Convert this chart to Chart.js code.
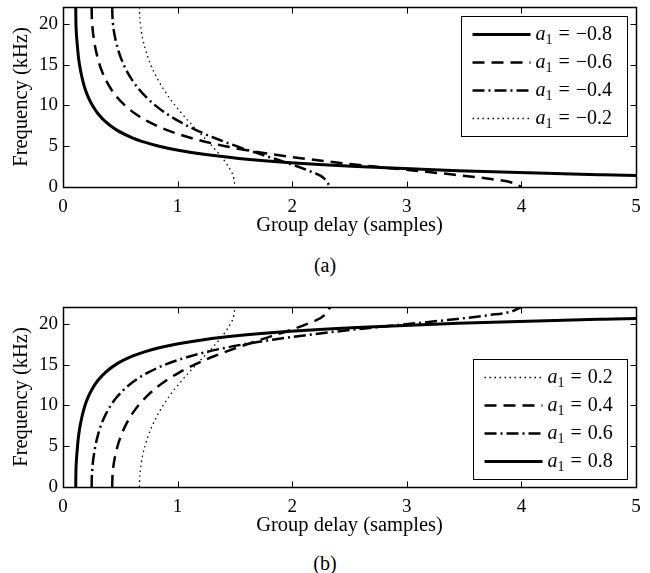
<!DOCTYPE html>
<html>
<head>
<meta charset="utf-8">
<script src="https://cdn.jsdelivr.net/npm/chart.js@4.4.1/dist/chart.umd.min.js"></script>
<style>
  body { margin: 0; background: #fff; }
  #fig { position: relative; width: 650px; height: 573px; font-family: "Liberation Serif", serif; }
  #fig canvas { position: absolute; left: 0; }
  .cap { position: absolute; left: 0; width: 650px; text-align: center; font-size: 20px; line-height: 22px; color: #000; }
</style>
</head>
<body>
<div id="fig">
  <canvas id="delayNeg" width="650" height="250" style="top:0"></canvas>
  <div class="cap" style="top:254px">(a)</div>
  <canvas id="delayPos" width="650" height="250" style="top:300px"></canvas>
  <div class="cap" style="top:552px">(b)</div>
</div>
<script>
const xTicks = [0, 1, 2, 3, 4, 5];
const yTicks = [0, 5, 10, 15, 20];
const fMax = 22.05;

// (a) negative coefficients: group delay (samples) against frequency (kHz)
const delayNeg08 = [0.111, 0.112, 0.113, 0.116, 0.121, 0.127, 0.134, 0.144, 0.157, 0.173, 0.193, 0.220, 0.256, 0.304, 0.371, 0.466, 0.610, 0.711, 0.839, 1.006, 1.229, 1.533, 1.957, 2.564, 3.444, 4.712, 5.0];
const freqNeg08 = [22.05, 21, 20, 19, 18, 17, 16, 15, 14, 13, 12, 11, 10, 9, 8, 7, 6, 5.5, 5, 4.5, 4, 3.5, 3, 2.5, 2, 1.5, 1.41];

const delayNeg06 = [0.250, 0.251, 0.255, 0.261, 0.271, 0.283, 0.299, 0.319, 0.345, 0.378, 0.419, 0.472, 0.540, 0.628, 0.745, 0.903, 1.118, 1.416, 1.830, 2.388, 2.720, 3.071, 3.417, 3.717, 3.925, 4.000];
const freqNeg06 = [22.05, 21, 20, 19, 18, 17, 16, 15, 14, 13, 12, 11, 10, 9, 8, 7, 6, 5, 4, 3, 2.5, 2, 1.5, 1, 0.5, 0];

const delayNeg04 = [0.429, 0.431, 0.436, 0.445, 0.459, 0.477, 0.500, 0.529, 0.564, 0.608, 0.661, 0.726, 0.805, 0.901, 1.017, 1.157, 1.323, 1.515, 1.727, 1.945, 2.141, 2.282, 2.333];
const freqNeg04 = [22.05, 21, 20, 19, 18, 17, 16, 15, 14, 13, 12, 11, 10, 9, 8, 7, 6, 5, 4, 3, 2, 1, 0];

const delayNeg02 = [0.667, 0.669, 0.675, 0.684, 0.698, 0.716, 0.738, 0.765, 0.797, 0.834, 0.876, 0.924, 0.978, 1.037, 1.100, 1.166, 1.235, 1.302, 1.365, 1.420, 1.463, 1.491, 1.500];
const freqNeg02 = [22.05, 21, 20, 19, 18, 17, 16, 15, 14, 13, 12, 11, 10, 9, 8, 7, 6, 5, 4, 3, 2, 1, 0];

// (b) positive coefficients
const delayPos02 = [0.667, 0.669, 0.675, 0.684, 0.698, 0.716, 0.738, 0.765, 0.797, 0.834, 0.876, 0.924, 0.978, 1.037, 1.100, 1.166, 1.235, 1.302, 1.365, 1.420, 1.463, 1.491, 1.500];
const freqPos02 = [0, 1.05, 2.05, 3.05, 4.05, 5.05, 6.05, 7.05, 8.05, 9.05, 10.05, 11.05, 12.05, 13.05, 14.05, 15.05, 16.05, 17.05, 18.05, 19.05, 20.05, 21.05, 22.05];

const delayPos04 = [0.429, 0.431, 0.436, 0.445, 0.459, 0.477, 0.500, 0.529, 0.564, 0.608, 0.661, 0.726, 0.805, 0.901, 1.017, 1.157, 1.323, 1.515, 1.727, 1.945, 2.141, 2.282, 2.333];
const freqPos04 = [0, 1.05, 2.05, 3.05, 4.05, 5.05, 6.05, 7.05, 8.05, 9.05, 10.05, 11.05, 12.05, 13.05, 14.05, 15.05, 16.05, 17.05, 18.05, 19.05, 20.05, 21.05, 22.05];

const delayPos06 = [0.250, 0.251, 0.255, 0.261, 0.271, 0.283, 0.299, 0.319, 0.345, 0.378, 0.419, 0.472, 0.540, 0.628, 0.745, 0.903, 1.118, 1.416, 1.830, 2.388, 2.720, 3.071, 3.417, 3.717, 3.925, 4.000];
const freqPos06 = [0, 1.05, 2.05, 3.05, 4.05, 5.05, 6.05, 7.05, 8.05, 9.05, 10.05, 11.05, 12.05, 13.05, 14.05, 15.05, 16.05, 17.05, 18.05, 19.05, 19.55, 20.05, 20.55, 21.05, 21.55, 22.05];

const delayPos08 = [0.111, 0.112, 0.113, 0.116, 0.121, 0.127, 0.134, 0.144, 0.157, 0.173, 0.193, 0.220, 0.256, 0.304, 0.371, 0.466, 0.610, 0.711, 0.839, 1.006, 1.229, 1.533, 1.957, 2.564, 3.444, 4.712, 5.0];
const freqPos08 = [0, 1.05, 2.05, 3.05, 4.05, 5.05, 6.05, 7.05, 8.05, 9.05, 10.05, 11.05, 12.05, 13.05, 14.05, 15.05, 16.05, 16.55, 17.05, 17.55, 18.05, 18.55, 19.05, 19.55, 20.05, 20.55, 20.64];

const FONT = '"Liberation Serif", "Times New Roman", serif';
const tickFont = { family: FONT, size: 19 };
const titleFont = { family: FONT, size: 20.5 };

const lineStyles = {
	solid: { borderWidth: 3, borderDash: [] },
	dashed: { borderWidth: 2.5, borderDash: [12, 7] },
	dashDot: { borderWidth: 2.5, borderDash: [12, 4, 2, 4] },
	dotted: { borderWidth: 1.3, borderDash: [1.5, 3.5] },
};

function series(coef, delays, freqs, style) {
	return {
		label: coef,
		data: delays.map((d, i) => ({ x: d, y: freqs[i] })),
		showLine: true,
		borderColor: "#000",
		backgroundColor: "#000",
		borderWidth: lineStyles[style].borderWidth,
		borderDash: lineStyles[style].borderDash,
		pointRadius: 0,
		cubicInterpolationMode: "monotone",
	};
}

// box + inward ticks on all four sides
const framePlugin = {
	id: "frame",
	afterDatasetsDraw(chart) {
		const { ctx, chartArea: a, scales } = chart;
		const l = Math.round(a.left) + 0.5, r = Math.round(a.right) + 0.5;
		const t = Math.round(a.top) + 0.5, b = Math.round(a.bottom) + 0.5;
		ctx.save();
		ctx.strokeStyle = "#000";
		ctx.lineWidth = 1;
		ctx.beginPath();
		scales.x.ticks.forEach((tk) => {
			const px = Math.round(scales.x.getPixelForValue(tk.value)) + 0.5;
			ctx.moveTo(px, b); ctx.lineTo(px, b - 6);
			ctx.moveTo(px, t); ctx.lineTo(px, t + 6);
		});
		scales.y.ticks.forEach((tk) => {
			const py = Math.round(scales.y.getPixelForValue(tk.value)) + 0.5;
			ctx.moveTo(l, py); ctx.lineTo(l + 6, py);
			ctx.moveTo(r, py); ctx.lineTo(r - 6, py);
		});
		ctx.stroke();
		ctx.lineWidth = 1.5;
		ctx.strokeRect(l, t, r - l, b - t);
		ctx.restore();
	},
};

// legend drawn inside the axes, framed
const boxLegend = {
	id: "boxLegend",
	afterDraw(chart, args, opts) {
		const { ctx, chartArea: a } = chart;
		const sets = chart.data.datasets;
		const big = "20px " + FONT, small = "14px " + FONT, ital = "italic 20px " + FONT;
		ctx.save();
		ctx.font = ital; const wa = ctx.measureText("a").width;
		ctx.font = small; const w1 = ctx.measureText("1").width;
		ctx.font = big; const weq = ctx.measureText("=").width;
		const sp = 6;
		const textW = (s) => { ctx.font = big; return wa + w1 + sp + weq + sp + ctx.measureText(s).width; };
		const maxText = Math.max(...sets.map((s) => textW(s.label)));
		const padL = 11, lineLen = 58, gap = 5, padR = 15, boxH = 120;
		const boxW = padL + lineLen + gap + maxText + padR;
		const right = Math.round(a.right - 9) + 0.5;
		const top = opts.corner === "top" ? Math.round(a.top + 9) + 0.5 : Math.round(a.bottom - 8 - boxH) + 0.5;
		const left = right - Math.round(boxW);
		ctx.fillStyle = "#fff";
		ctx.fillRect(left, top, right - left, boxH);
		ctx.strokeStyle = "#000";
		ctx.lineWidth = 1;
		ctx.strokeRect(left, top, right - left, boxH);
		sets.forEach((s, i) => {
			const cy = top + 18 + i * 28;
			ctx.beginPath();
			ctx.setLineDash(s.borderDash);
			ctx.lineWidth = s.borderWidth;
			ctx.moveTo(left + padL, cy);
			ctx.lineTo(left + padL + lineLen, cy);
			ctx.stroke();
			ctx.setLineDash([]);
			let tx = left + padL + lineLen + gap;
			const base = cy + 5;
			ctx.fillStyle = "#000";
			ctx.textBaseline = "alphabetic";
			ctx.textAlign = "left";
			ctx.font = ital; ctx.fillText("a", tx, base); tx += wa;
			ctx.font = small; ctx.fillText("1", tx, base + 4); tx += w1 + sp;
			ctx.font = big; ctx.fillText("=", tx, base); tx += weq + sp;
			ctx.fillText(s.label, tx, base);
		});
		ctx.restore();
	},
};

function makeChart(id, datasets, corner) {
	return new Chart(document.getElementById(id), {
		type: "scatter",
		data: { datasets },
		options: {
			responsive: false,
			animation: false,
			layout: { padding: { top: 7, right: 14, left: 0, bottom: 0 } },
			plugins: {
				legend: { display: false },
				tooltip: { enabled: false },
				boxLegend: { corner },
			},
			scales: {
				x: {
					type: "linear",
					min: 0,
					max: 5,
					grid: { display: false, drawTicks: false },
					border: { display: false },
					afterBuildTicks: (s) => { s.ticks = xTicks.map((v) => ({ value: v })); },
					afterFit: (s) => { s.height = 63; s.paddingLeft = 0; s.paddingRight = 0; },
					ticks: { color: "#000", font: tickFont, padding: 9, maxRotation: 0 },
					title: {
						display: true,
						text: "Group delay (samples)",
						color: "#000",
						font: titleFont,
						padding: { top: 0, bottom: 12 },
					},
				},
				y: {
					type: "linear",
					min: 0,
					max: fMax,
					grid: { display: false, drawTicks: false },
					border: { display: false },
					afterBuildTicks: (s) => { s.ticks = yTicks.map((v) => ({ value: v })); },
					afterFit: (s) => { s.width = 63; s.paddingTop = 0; s.paddingBottom = 0; },
					ticks: { color: "#000", font: tickFont, padding: 5 },
					title: {
						display: true,
						text: "Frequency (kHz)",
						color: "#000",
						font: titleFont,
						padding: { top: 9, bottom: 0 },
					},
				},
			},
		},
		plugins: [framePlugin, boxLegend],
	});
}

makeChart("delayNeg", [
	series("\u22120.8", delayNeg08, freqNeg08, "solid"),
	series("\u22120.6", delayNeg06, freqNeg06, "dashed"),
	series("\u22120.4", delayNeg04, freqNeg04, "dashDot"),
	series("\u22120.2", delayNeg02, freqNeg02, "dotted"),
], "top");

makeChart("delayPos", [
	series("0.2", delayPos02, freqPos02, "dotted"),
	series("0.4", delayPos04, freqPos04, "dashed"),
	series("0.6", delayPos06, freqPos06, "dashDot"),
	series("0.8", delayPos08, freqPos08, "solid"),
], "bottom");
</script>
</body>
</html>
